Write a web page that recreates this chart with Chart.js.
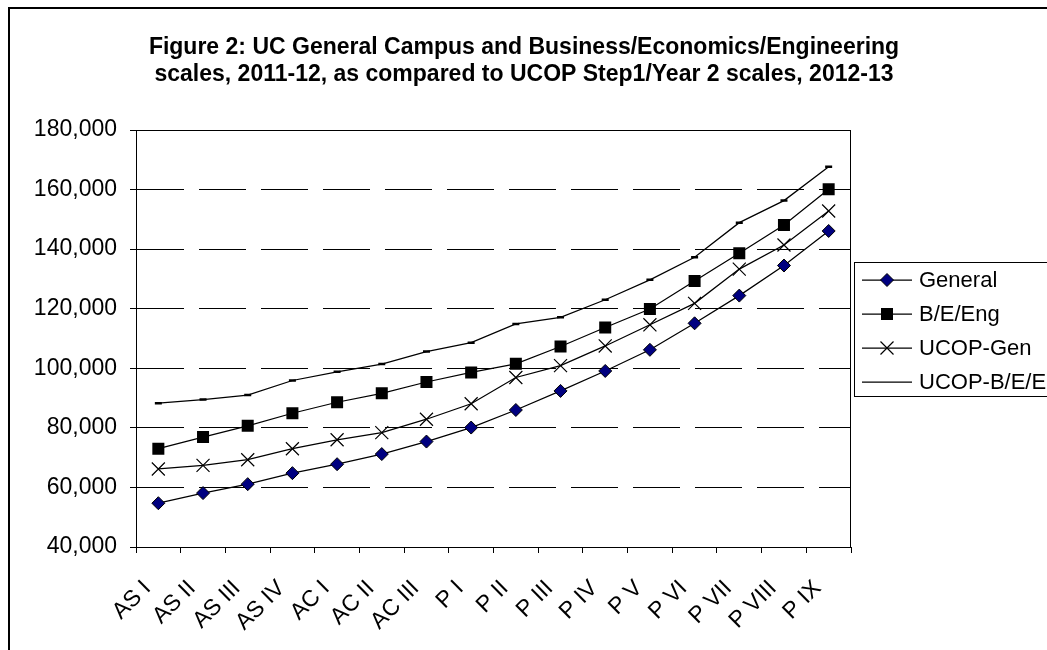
<!DOCTYPE html>
<html>
<head>
<meta charset="utf-8">
<title>Figure 2</title>
<script src="https://cdn.jsdelivr.net/npm/chart.js@4/dist/chart.umd.min.js"></script>
<style>
  html, body { margin: 0; padding: 0; background: #fff; overflow: hidden; }
  #wrap { position: relative; width: 1047px; height: 650px; }
</style>
</head>
<body>
<div id="wrap"><canvas id="scaleChart"></canvas></div>
<script>
// ── Data ── //
const categories = ['AS I', 'AS II', 'AS III', 'AS IV', 'AC I', 'AC II', 'AC III',
  'P I', 'P II', 'P III', 'P IV', 'P V', 'P VI', 'P VII', 'P VIII', 'P IX'];

const generalValues = [54700, 58100, 61100, 64800, 67800, 71200, 75400, 80100,
  86000, 92400, 99100, 106200, 115100, 124400, 134500, 146100];
const beEngValues = [73000, 76900, 80700, 84900, 88600, 91600, 95400, 98600,
  101500, 107300, 113700, 119900, 129300, 138600, 148100, 160100];
const ucopGenValues = [66200, 67400, 69300, 73000, 76000, 78400, 82900, 88100,
  96900, 100900, 107500, 114600, 121800, 133300, 141400, 152800];
const ucopBeeValues = [88300, 89500, 91000, 95900, 98800, 101400, 105600, 108600,
  114900, 117100, 123000, 129700, 137300, 148900, 156300, 167700];

const seriesNames = ['General', 'B/E/Eng', 'UCOP-Gen', 'UCOP-B/E/Eng'];

const yMin = 40000;
const yMax = 180000;
const yStep = 20000;

const titleLines = [
  'Figure 2: UC General Campus and Business/Economics/Engineering',
  'scales, 2011-12, as compared to UCOP Step1/Year 2 scales, 2012-13',
];

const FONT = '"Liberation Sans", Arial, sans-serif';

// ── Frame, title and plot border ── //
const framePlugin = {
  id: 'frame',
  beforeDraw(chart) {
    const c = chart.ctx;
    c.save();
    c.fillStyle = '#fff';
    c.fillRect(0, 0, chart.width, chart.height);
    c.strokeStyle = '#000';
    c.lineWidth = 2;
    c.strokeRect(9, 8, 1400, 1400);

    c.fillStyle = '#000';
    c.font = 'bold 23px ' + FONT;
    c.textAlign = 'center';
    c.textBaseline = 'middle';
    c.fillText(titleLines[0], 524, 48);
    c.fillText(titleLines[1], 524, 75);
    c.restore();
  },
  beforeDatasetsDraw(chart) {
    const { ctx: c, chartArea: a } = chart;
    c.save();
    c.strokeStyle = '#000';
    c.lineWidth = 1;
    c.beginPath();
    c.moveTo(a.left, a.top + 0.5);
    c.lineTo(a.right - 0.5, a.top + 0.5);
    c.lineTo(a.right - 0.5, a.bottom);
    c.stroke();
    c.restore();
  },
};

// ── Legend box (partly off the right edge, like the source) ── //
function drawMarker(c, style, x, y) {
  c.beginPath();
  if (style === 'diamond') {
    c.moveTo(x, y - 6.5); c.lineTo(x + 6.5, y); c.lineTo(x, y + 6.5); c.lineTo(x - 6.5, y);
    c.closePath();
    c.fillStyle = '#000080'; c.fill();
    c.lineWidth = 1; c.strokeStyle = '#000'; c.stroke();
  } else if (style === 'square') {
    c.rect(x - 6, y - 6, 12, 12);
    c.fillStyle = '#000'; c.fill();
  } else if (style === 'cross') {
    c.moveTo(x - 6.5, y - 6.5); c.lineTo(x + 6.5, y + 6.5);
    c.moveTo(x + 6.5, y - 6.5); c.lineTo(x - 6.5, y + 6.5);
    c.lineWidth = 1.2; c.strokeStyle = '#000'; c.stroke();
  }
}

const legendPlugin = {
  id: 'boxLegend',
  afterDraw(chart) {
    const c = chart.ctx;
    const styles = ['diamond', 'square', 'cross', 'dash'];
    c.save();
    c.strokeStyle = '#000';
    c.lineWidth = 1;
    c.strokeRect(854.5, 262.5, 300, 134);
    c.font = '22px ' + FONT;
    c.textAlign = 'left';
    c.textBaseline = 'middle';
    seriesNames.forEach((name, i) => {
      const y = 280 + i * 34;
      c.beginPath();
      c.moveTo(862, y);
      c.lineTo(912, y);
      c.lineWidth = 1.25;
      c.strokeStyle = '#000';
      c.stroke();
      drawMarker(c, styles[i], 887, y);
      c.fillStyle = '#000';
      c.fillText(name, 919, y + 1);
    });
    c.restore();
  },
};

// ── Chart ── //
function seriesDataset(label, data, style) {
  const base = {
    label: label,
    data: data,
    borderColor: '#000',
    borderWidth: 1.25,
    tension: 0,
    fill: false,
    pointBorderColor: '#000',
    pointBorderWidth: 1,
  };
  return Object.assign(base, style);
}

const ctx = document.getElementById('scaleChart');
new Chart(ctx, {
  type: 'line',
  data: {
    labels: categories,
    datasets: [
      seriesDataset(seriesNames[0], generalValues, {
        pointStyle: 'rectRot', pointRadius: 6.5, pointBackgroundColor: '#000080',
      }),
      seriesDataset(seriesNames[1], beEngValues, {
        pointStyle: 'rect', pointRadius: 8.5, pointBackgroundColor: '#000', pointBorderWidth: 0,
      }),
      seriesDataset(seriesNames[2], ucopGenValues, {
        pointStyle: 'crossRot', pointRadius: 9.2, pointBackgroundColor: '#000', pointBorderWidth: 1.2,
      }),
      seriesDataset(seriesNames[3], ucopBeeValues, {
        pointStyle: 'line', pointRadius: 3.5, pointBorderWidth: 2.5,
      }),
    ],
  },
  options: {
    responsive: true,
    maintainAspectRatio: false,
    animation: false,
    layout: { padding: { left: 0, right: 196, top: 130, bottom: 0 } },
    plugins: {
      legend: { display: false },
      title: { display: false },
      tooltip: { enabled: false },
    },
    scales: {
      x: {
        type: 'category',
        offset: true,
        afterFit(scale) { scale.height = 103; },
        grid: {
          offset: true,
          drawOnChartArea: false,
          drawTicks: true,
          tickLength: 6,
          color: '#000',
          lineWidth: 1,
        },
        border: { display: true, color: '#000', width: 1 },
        ticks: {
          autoSkip: false,
          minRotation: 45,
          maxRotation: 45,
          padding: 22,
          labelOffset: -11,
          color: '#000',
          font: { family: FONT, size: 23 },
        },
      },
      y: {
        min: yMin,
        max: yMax,
        afterFit(scale) { scale.width = 136; },
        grid: {
          color: '#000',
          lineWidth: 1,
          tickLength: 6,
        },
        border: { display: true, color: '#000', width: 1, dash: [47, 15] },
        ticks: {
          stepSize: yStep,
          padding: 13,
          color: '#000',
          font: { family: FONT, size: 23 },
          callback: (v) => v.toLocaleString('en-US'),
        },
      },
    },
  },
  plugins: [framePlugin, legendPlugin],
});
</script>
</body>
</html>
